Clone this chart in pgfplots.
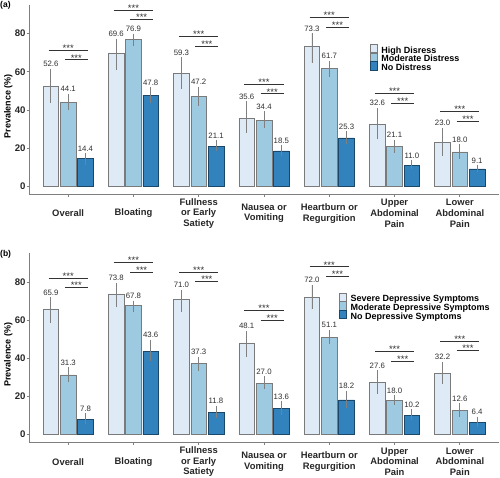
\documentclass[border=0pt]{standalone}
\usepackage{pgfplots}
\pgfplotsset{compat=1.18}
\usepackage{pgfplotstable}
\usepackage{fontspec}
\setmainfont{Liberation Sans}
\definecolor{cL}{HTML}{DEEBF7}
\definecolor{cM}{HTML}{9ECAE1}
\definecolor{cD}{HTML}{3182BD}
\definecolor{axgray}{HTML}{7F7F7F}

% x: category; h/m/n: bar values; *lo: lower CI; *l: label height (upper CI = label - 2.4)
\pgfplotstableread{
x h hlo hl m mlo ml n nlo nl
0 52.6 43.7 64.0 44.1 40.2 51.0 14.4 11.3 19.6
1 69.6 61.1 79.8 76.9 73.3 82.4 47.8 43.7 54.2
2 59.3 51.0 69.9 47.2 42.3 54.6 21.1 18.3 26.5
3 35.6 28.0 46.9 34.4 30.6 41.6 18.5 15.7 24.0
4 73.3 64.6 82.6 61.7 57.3 68.1 25.3 22.0 31.4
5 32.6 24.6 43.5 21.1 17.6 26.8 11.0 8.9 16.2
6 23.0 16.0 33.0 18.0 14.3 24.6 9.1 7.3 13.6
}\tabA

\pgfplotstableread{
x h hlo hl m mlo ml n nlo nl
0 65.9 58.7 74.4 31.3 27.6 37.7 7.8 5.8 13.6
1 73.8 66.9 82.1 67.8 64.3 72.7 43.6 38.4 52.1
2 71.0 64.3 78.3 37.3 33.2 43.3 11.8 8.7 17.6
3 48.1 40.7 56.9 27.0 23.8 33.2 13.6 10.1 20.1
4 72.0 65.7 80.9 51.1 47.7 57.3 18.2 14.0 25.5
5 27.6 21.5 36.3 18.0 15.4 23.2 10.2 7.5 15.9
6 32.2 26.4 40.7 12.6 9.3 18.9 6.4 4.0 11.9
}\tabB

\pgfplotsset{
  panel/.style={
    scale only axis, width=470pt, height=189.5pt, clip=false,
    xmin=-0.6, xmax=6.6, ymin=-4.2, ymax=95.1,
    axis x line*=bottom, axis y line*=left,
    axis line style={axgray, line width=0.9pt},
    ytick={0,20,40,60,80}, xtick={0,...,6},
    xticklabels={Overall,Bloating,{Fullness\\or Early\\Satiety},{Nausea or\\Vomiting},{Heartburn or\\Regurgition},{Upper\\Abdominal\\Pain},{Lower\\Abdominal\\Pain}},
    tick align=outside, major tick length=2.5pt,
    tick style={axgray, line width=0.8pt},
    /pgf/number format/assume math mode=true,
    yticklabel style={font=\fontsize{9.6}{11}\selectfont\bfseries, text=black!85, inner sep=0.8pt},
    xticklabel style={font=\fontsize{9.4}{10.7}\selectfont\bfseries, align=center, anchor=center, yshift=-16.5pt, text=black!85},
    ylabel={Prevalence (\%)},
    ylabel style={font=\fontsize{9}{10}\selectfont\bfseries, at={(axis description cs:-0.044,0.465)}, anchor=center},
    legend cell align=left,
    legend style={anchor=north west, draw=none, fill=none, inner sep=0pt, outer sep=0pt,
      font=\fontsize{9}{9}\selectfont\bfseries, row sep=-2.2pt,
      nodes={inner sep=0pt, text height=6.5pt, text depth=1.8pt},
      /tikz/every odd column/.append style={column sep=4pt}},
  },
  key/.style={legend image code/.code={\draw[##1, line width=0.5pt] (0pt,-1.8pt) rectangle (7pt,6.5pt);}},
  bars/.style={ybar, bar width=15.6pt, bar shift=0pt, line width=0.6pt,
    error bars/y dir=both, error bars/y explicit, error bars/error mark=none,
    error bars/error bar style={black!50, line width=0.8pt}},
  labs/.style={draw=none, mark=none, forget plot, nodes near coords, point meta=explicit symbolic,
    nodes near coords style={anchor=center, font=\fontsize{7.8}{8}\selectfont, text=black!82, inner sep=0pt}},
}

\newcommand{\sig}[5]{%
  \draw[black!80, line width=0.9pt] (axis cs:#1,#4) -- (axis cs:#3,#4)
    node[midway, anchor=base, yshift=-1.2pt, inner sep=0pt, font=\fontsize{9.5}{9.5}\selectfont, text=black!80] {***};
  \draw[black!80, line width=0.9pt] (axis cs:#2,#5) -- (axis cs:#3,#5)
    node[midway, anchor=base, yshift=-1.2pt, inner sep=0pt, font=\fontsize{9.5}{9.5}\selectfont, text=black!80] {***};
}

\newcommand{\panelplots}[1]{%
  \addplot[bars, fill=cL, draw=black!52, key] table[x expr=\thisrow{x}-0.265, y=h,
    y error plus expr=\thisrow{hl}-2.4-\thisrow{h}, y error minus expr=\thisrow{h}-\thisrow{hlo}] {#1};
  \addplot[bars, fill=cM, draw=black!52, key] table[x=x, y=m,
    y error plus expr=\thisrow{ml}-2.4-\thisrow{m}, y error minus expr=\thisrow{m}-\thisrow{mlo}] {#1};
  \addplot[bars, fill=cD, draw=cD!55!black, key] table[x expr=\thisrow{x}+0.265, y=n,
    y error plus expr=\thisrow{nl}-2.4-\thisrow{n}, y error minus expr=\thisrow{n}-\thisrow{nlo}] {#1};
  \addplot[labs] table[x expr=\thisrow{x}-0.265, y=hl, meta=h] {#1};
  \addplot[labs] table[x=x, y=ml, meta=m] {#1};
  \addplot[labs] table[x expr=\thisrow{x}+0.265, y=nl, meta=n] {#1};
}

\begin{document}
\begin{tikzpicture}
\path[use as bounding box] (0pt,0pt) rectangle (500pt,478pt);

\begin{axis}[panel, at={(29pt,283.7pt)}, anchor=south west,
  legend style={at={(0.7255,0.7935)}}]
  \panelplots{\tabA}
  \legend{High Disress, Moderate Distress, No Distress}
  \sig{-0.3}{-0.05}{0.3}{71.2}{66.2}
  \sig{0.7}{0.95}{1.3}{92.2}{87.3}
  \sig{1.7}{1.95}{2.3}{78.5}{73.3}
  \sig{2.7}{2.95}{3.3}{53.3}{48.4}
  \sig{3.7}{3.95}{4.3}{88.5}{83.3}
  \sig{4.7}{4.95}{5.3}{48.8}{43.3}
  \sig{5.7}{5.95}{6.3}{39.3}{34.0}
\end{axis}

\begin{axis}[panel, at={(29pt,35.3pt)}, anchor=south west,
  legend style={at={(0.660,0.7916)}}]
  \panelplots{\tabB}
  \legend{Severe Depressive Symptoms, Moderate Depressive Symptoms, No Depressive Symptoms}
  \sig{-0.3}{-0.05}{0.3}{82.1}{77.0}
  \sig{0.7}{0.95}{1.3}{90.1}{85.2}
  \sig{1.7}{1.95}{2.3}{85.2}{80.3}
  \sig{2.7}{2.95}{3.3}{65.2}{59.9}
  \sig{3.7}{3.95}{4.3}{87.9}{83.1}
  \sig{4.7}{4.95}{5.3}{43.8}{38.6}
  \sig{5.7}{5.95}{6.3}{48.9}{44.2}
\end{axis}

\node[anchor=west, inner sep=0pt, font=\fontsize{8.5}{9}\selectfont\bfseries] at (0pt,473pt) {(a)};
\node[anchor=west, inner sep=0pt, font=\fontsize{8.5}{9}\selectfont\bfseries] at (0pt,224pt) {(b)};
\end{tikzpicture}
\end{document}
